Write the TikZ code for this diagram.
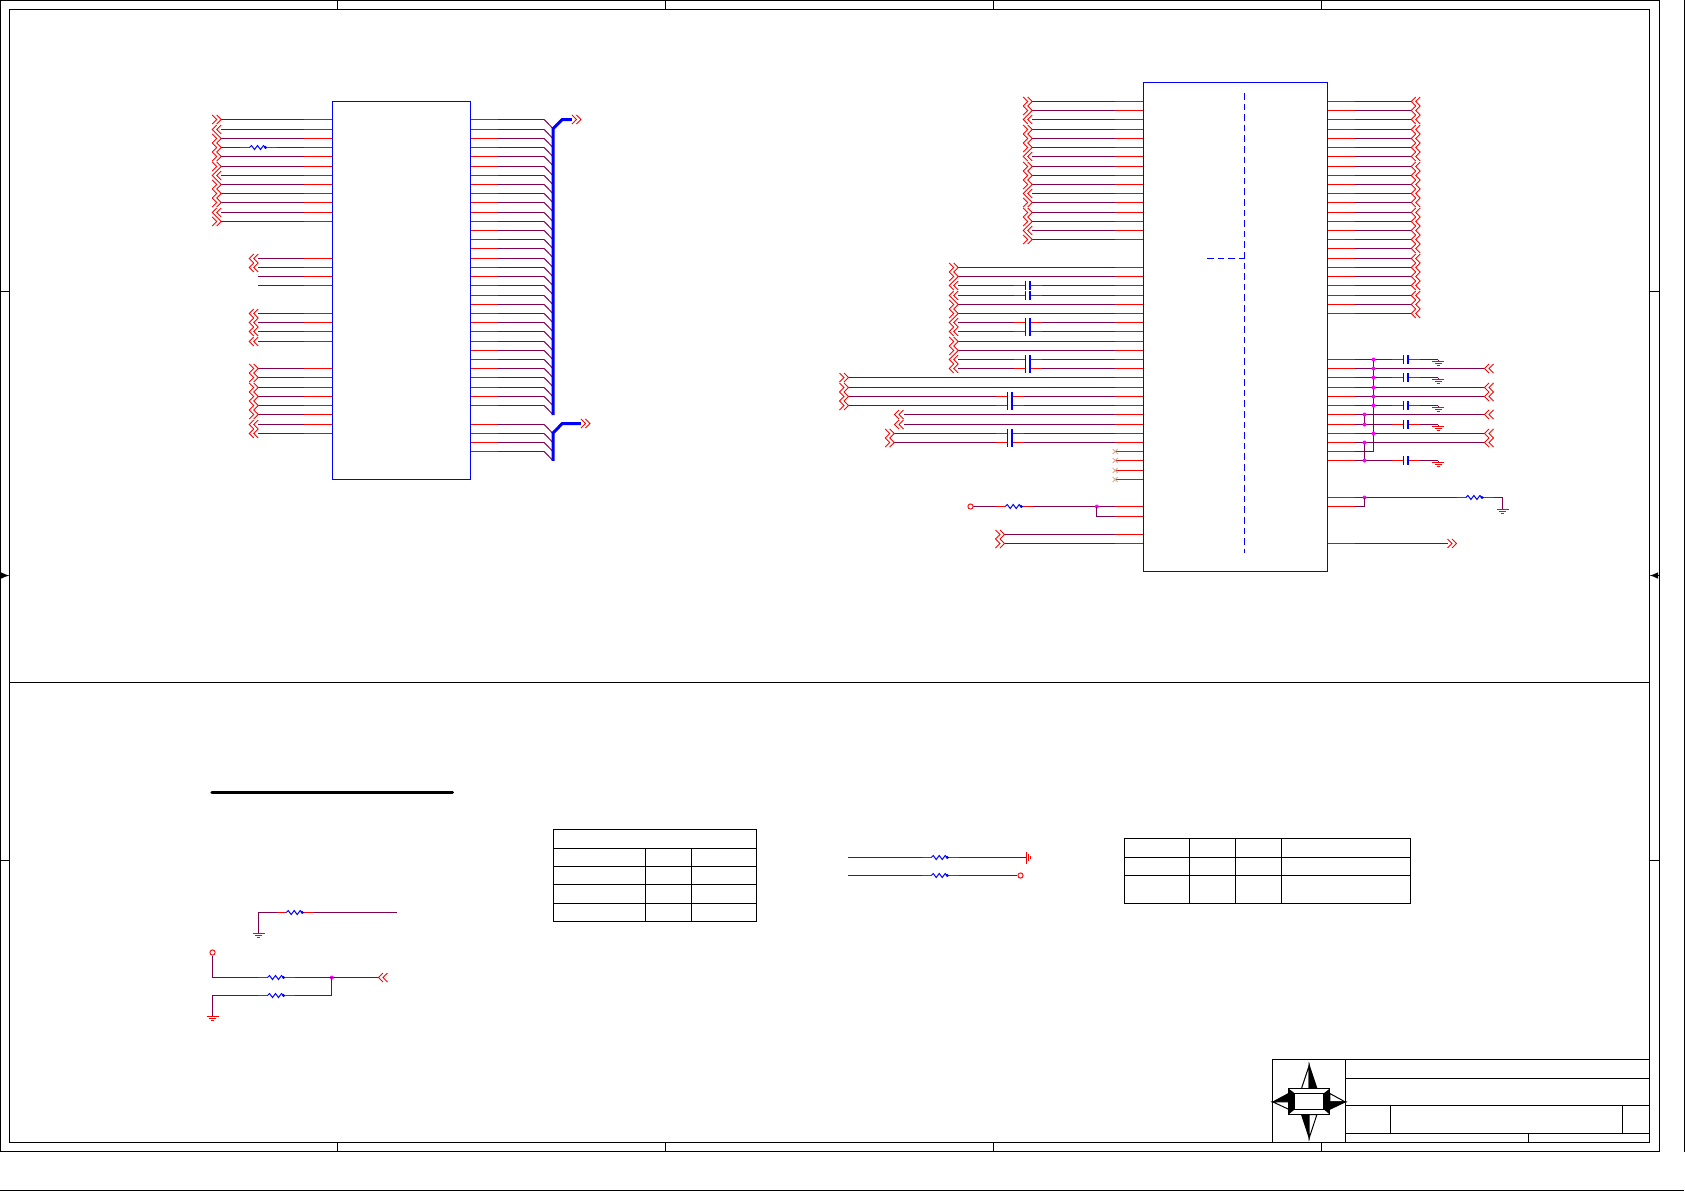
\documentclass[tikz,border=0pt]{standalone}
\usepackage{tikz}
\definecolor{netred}{RGB}{255,0,0}
\definecolor{netpurple}{RGB}{128,0,80}
\definecolor{partblue}{RGB}{0,0,255}
\definecolor{nodepink}{RGB}{255,0,255}
\definecolor{ncmark}{RGB}{205,175,145}
\tikzset{
  wire/.style={netpurple,line width=0.5pt},
  stubline/.style={netred,line width=0.5pt},
  gndline/.style={netred,line width=0.4pt},
  partline/.style={partblue,line width=0.5pt},
  busline/.style={partblue,line width=1.5pt},
  frameline/.style={black,line width=0.5pt},
  netarrow/.style={netred,line width=0.45pt},
  chipbox/.style={draw=partblue,line width=0.5pt,inner sep=0pt,outer sep=0pt},
  junct/.style={circle,fill=nodepink,inner sep=0pt,minimum size=2pt},
  termo/.style={circle,draw=netred,fill=white,line width=0.45pt,inner sep=0pt,minimum size=2.6pt},
  chevr/.pic={\draw[netarrow] (0,-4.5)--(4.5,0)--(0,4.5); \draw[netarrow] (4.5,-4.5)--(9,0)--(4.5,4.5);},
  chevl/.pic={\draw[netarrow] (4.5,-4.5)--(0,0)--(4.5,4.5); \draw[netarrow] (9,-4.5)--(4.5,0)--(9,4.5);},
  gndsym/.pic={\draw[gndline] (-6,0)--(6,0); \draw[gndline] (-3.4,2)--(3.4,2); \draw[gndline] (-1.5,4)--(1.5,4);},
  ressym/.pic={\fill[white] (0,-1) rectangle (18,1);
    \draw[stubline] (-9.3,0)--(0,0); \draw[stubline] (18,0)--(27.6,0);
    \draw[partline] (0,0)--(2,-2)--(5,2)--(8,-2)--(11,2)--(14,-2)--(16,0)--(18,0);
    \fill[partblue] (16,0) circle (1.6);},
  capsym/.pic={\fill[white] (-1.5,-1) rectangle (2,1);
    \draw[stubline] (-13.5,0)--(-2,0); \draw[stubline] (2.5,0)--(14.3,0);
    \draw[partline] (-2,-4.5)--(-2,4.5); \draw[partblue,line width=1pt] (2,-4.5)--(2,4.5);},
}
% free end, stub start, pin end
\newcommand{\netline}[5]{
  \coordinate (#1f) at (#2,#5);
  \coordinate (#1s) at (#3,#5);
  \coordinate (#1p) at (#4,#5);
  \draw[wire] (#1f) -- (#1s);
  \draw[stubline] (#1s) -- (#1p);
}
\begin{document}
\begin{tikzpicture}[x=0.5pt,y=-0.5pt]
\useasboundingbox (0,0) rectangle (1685,1191);
\begin{scope}[shift={(0.2,0.2)}]
% sheet frame
\draw[frameline] (0.3,0.3) rectangle (1659.3,1151.3);
\draw[frameline] (9.3,9.3) rectangle (1649.3,1142.3);
\draw[frameline] (1684.3,0) -- (1684.3,1151.3);
\draw[frameline] (0,1190.3) -- (1684,1190.3);
\coordinate (divl) at (9.3,682.3);
\coordinate (divr) at (1649.3,682.3);
\draw[frameline] (divl) -- (divr);
\foreach \x in {337.3,665.3,993.3,1321.3} {
  \draw[frameline] (\x,0.3) -- (\x,9.3);
  \draw[frameline] (\x,1142.3) -- (\x,1151.3);
}
\foreach \y in {291.3,860.3} {
  \draw[frameline] (0.3,\y) -- (9.3,\y);
  \draw[frameline] (1649.3,\y) -- (1659.3,\y);
}
\coordinate (arl) at (0.3,575.3);
\coordinate (arle) at (9.3,575.3);
\coordinate (arr) at (1659.3,575.3);
\coordinate (arre) at (1649.3,575.3);
\draw[frameline,-latex] (arl) -- (arle);
\draw[frameline,-latex] (arr) -- (arre);

% left chip
\foreach \y/\d [count=\i] in {119.3/chevr,129.3/chevl,138.3/chevr,147.3/chevr,156.3/chevr,166.3/chevr,175.3/chevl,184.3/chevr,193.3/chevr,202.3/chevr,212.3/chevl,221.3/chevr} {
  \netline{la\i}{221}{304}{332.3}{\y}
  \pic at (212,\y) {\d};
}
\pic at (249.3,147.3) {ressym};
\foreach \y [count=\i] in {258.3,267.3} {
  \netline{lb\i}{258}{304}{332.3}{\y}
  \pic at (249,\y) {chevl};
}
\foreach \y [count=\i] in {276.3,285.3} {
  \netline{lc\i}{258}{304}{332.3}{\y}
}
\foreach \y [count=\i] in {313.3,322.3,331.3,341.3} {
  \netline{ld\i}{258}{304}{332.3}{\y}
  \pic at (249,\y) {chevl};
}
\foreach \y/\d [count=\i] in {368.3/chevr,377.3/chevr,387.3/chevr,396.3/chevr,405.3/chevr,414.3/chevr,424.3/chevl,433.3/chevl} {
  \netline{le\i}{258}{304}{332.3}{\y}
  \pic at (249,\y) {\d};
}
\node (U1) [chipbox,minimum width=69pt,minimum height=189pt] at (401.3,290.3) {};

% data bus entries
\foreach \y [count=\i] in {119.3,129.3,138.3,147.3,156.3,166.3,175.3,184.3,193.3,202.3,212.3,221.3,230.3,239.3,248.3,258.3,267.3,276.3,285.3,295.3,304.3,313.3,322.3,331.3,341.3,350.3,359.3,368.3,377.3,387.3,396.3,405.3} {
  \netline{da\i}{544}{497.3}{470.3}{\y}
  \coordinate (dae\i) at (552.7,\y+9);
  \draw[wire] (da\i f) -- (dae\i);
}
\foreach \y [count=\i] in {424.3,433.3,442.3,451.3} {
  \netline{db\i}{544}{497.3}{470.3}{\y}
  \coordinate (dbe\i) at (552.7,\y+9);
  \draw[wire] (db\i f) -- (dbe\i);
}
\coordinate (bua) at (553,415);
\coordinate (bub) at (553,128.3);
\coordinate (buc) at (562,119.3);
\coordinate (bud) at (571.7,119.3);
\draw[busline] (bua) -- (bub) -- (buc) -- (bud);
\pic at (571.7,119.3) {chevr};
\coordinate (bva) at (553,460.7);
\coordinate (bvb) at (553,432.7);
\coordinate (bvc) at (562,423.3);
\coordinate (bvd) at (580.7,423.3);
\draw[busline] (bva) -- (bvb) -- (bvc) -- (bvd);
\pic at (580.7,423.3) {chevr};

% right chip, left side
\foreach \y/\d [count=\i] in {101.3/chevr,110.3/chevr,119.3/chevl,129.3/chevr,138.3/chevr,147.3/chevr,156.3/chevl,166.3/chevr,175.3/chevr,184.3/chevr,193.3/chevl,202.3/chevr,212.3/chevr,221.3/chevr,230.3/chevl,239.3/chevr} {
  \netline{ra\i}{1032}{1115}{1143.3}{\y}
  \pic at (1023,\y) {\d};
}
\foreach \y/\d [count=\i] in {267.3/chevr,276.3/chevr,285.3/chevl,295.3/chevl,304.3/chevr,313.3/chevr,322.3/chevl,331.3/chevl,341.3/chevr,350.3/chevr,359.3/chevl,368.3/chevl} {
  \netline{rb\i}{958}{1115}{1143.3}{\y}
  \pic at (949,\y) {\d};
}
\foreach \y in {285.3,295.3,322.3,331.3,359.3,368.3} {
  \pic at (1027.5,\y) {capsym};
}
\foreach \y [count=\i] in {377.3,387.3,396.3,405.3} {
  \netline{rc\i}{848.3}{1115}{1143.3}{\y}
  \pic at (839.3,\y) {chevr};
}
\foreach \y [count=\i] in {414.3,424.3} {
  \netline{rd\i}{903.3}{1115}{1143.3}{\y}
  \pic at (894.3,\y) {chevl};
}
\foreach \y [count=\i] in {433.3,442.3} {
  \netline{re\i}{894}{1115}{1143.3}{\y}
  \pic at (885,\y) {chevr};
}
\foreach \y in {396.3,405.3,433.3,442.3} {
  \pic at (1009.7,\y) {capsym};
}
\foreach \y [count=\i] in {451.3,460.3,470.3,479.3} {
  \coordinate (nc\i) at (1115,\y);
  \coordinate (ncp\i) at (1143.3,\y);
  \draw[stubline] (nc\i) -- (ncp\i);
  \draw[ncmark,line width=0.4pt] (1112.5,\y-2.5) -- (1117.5,\y+2.5) (1112.5,\y+2.5) -- (1117.5,\y-2.5);
}
\netline{rf1}{973}{1115}{1143.3}{506.3}
\coordinate (rf2s) at (1115,516.3);
\coordinate (rf2p) at (1143.3,516.3);
\node (jrf) [junct] at (1096.7,506.3) {};
\draw[wire] (jrf.center) |- (rf2s);
\draw[stubline] (rf2s) -- (rf2p);
\node (trf) [termo] at (970.3,506.3) {};
\pic at (1005,506.3) {ressym};
\foreach \y [count=\i] in {534.3,543.3} {
  \netline{rg\i}{1004.3}{1115}{1143.3}{\y}
  \pic at (995.3,\y) {chevr};
}
\node (U2) [chipbox,minimum width=92pt,minimum height=244.35pt] at (1235.3,326.65) {};
\draw[partline,dash pattern=on 3.3pt off 2pt] (1244.3,92.7) -- (1244.3,552.7);
\draw[partline,dash pattern=on 3.3pt off 2pt] (1207,258.3) -- (1244.3,258.3);

% right chip, right side
\foreach \y [count=\i] in {101.3,110.3,119.3,129.3,138.3,147.3,156.3,166.3,175.3,184.3,193.3,202.3,212.3,221.3,230.3,239.3,248.3,258.3,267.3,276.3,285.3,295.3,304.3,313.3} {
  \netline{rh\i}{1411}{1355}{1327.3}{\y}
  \pic at (1411,\y) {chevl};
}
\foreach \y [count=\i] in {359.3,377.3,405.3,424.3,460.3} {
  \netline{rj\i}{1438}{1355}{1327.3}{\y}
  \pic at (1405.7,\y) {capsym};
  \coordinate (gj\i) at (1438,\y+2);
  \draw[wire] (rj\i f) -- (gj\i);
  \pic at (gj\i) {gndsym};
}
\foreach \y [count=\i] in {368.3,387.3,396.3,414.3,433.3,442.3} {
  \netline{rk\i}{1484.3}{1355}{1327.3}{\y}
  \pic at (1484.3,\y) {chevl};
}
\netline{rl1}{1373.3}{1355}{1327.3}{451.3}
\draw[wire] (1373.3,359.3) -- (rl1f);
\draw[wire] (1364.3,414.3) -- (1364.3,424.3);
\draw[wire] (1364.3,442.3) -- (1364.3,460.3);
\foreach \y [count=\i] in {359.3,368.3,377.3,387.3,396.3,405.3,433.3} {
  \node (ja\i) [junct] at (1373.3,\y) {};
}
\foreach \y [count=\i] in {414.3,424.3,442.3,460.3} {
  \node (jb\i) [junct] at (1364.3,\y) {};
}
\netline{rm1}{1502.3}{1355}{1327.3}{497.3}
\coordinate (rm2s) at (1364.3,506.3);
\coordinate (rm2p) at (1327.3,506.3);
\coordinate (rm2n) at (1355,506.3);
\node (jrm) [junct] at (1364.3,497.3) {};
\draw[wire] (jrm.center) -- (rm2s) -- (rm2n);
\draw[stubline] (rm2n) -- (rm2p);
\pic at (1465.7,497.3) {ressym};
\coordinate (gm) at (1502.3,509.3);
\draw[wire] (rm1f) -- (gm);
\pic at (gm) {gndsym};
\netline{rn1}{1447.3}{1355}{1327.3}{543.3}
\pic at (1447.3,543.3) {chevr};

% lower left
\coordinate (hla) at (211.7,792.3);
\coordinate (hlb) at (452.3,792.3);
\draw[black,line width=1.5pt,line cap=round] (hla) -- (hlb);
\coordinate (sa) at (396.7,912.3);
\coordinate (sb) at (258.3,912.3);
\coordinate (sc) at (258.3,933.3);
\draw[wire] (sa) -- (sb) -- (sc);
\pic at (286,912.3) {ressym};
\pic at (258.3,933.3) {gndsym};
\node (tsd) [termo] at (212.3,952.3) {};
\node (jsd) [junct] at (331.7,977.3) {};
\coordinate (se) at (212.3,977.3);
\coordinate (sf) at (378.3,977.3);
\draw[wire] (tsd) -- (se) -- (sf);
\pic at (378.3,977.3) {chevl};
\pic at (267.3,977.3) {ressym};
\coordinate (sg) at (212.3,1016.3);
\coordinate (sh) at (212.3,995.3);
\coordinate (si) at (331.7,995.3);
\draw[wire] (sg) -- (sh) -- (si) -- (jsd.center);
\pic at (267.3,995.3) {ressym};
\pic at (sg) {gndsym};

% table one
\draw[frameline] (553.3,829.3) rectangle (756.3,921.3);
\foreach \y in {848.3,866.3,884.3,903.3} {
  \draw[frameline] (553.3,\y) -- (756.3,\y);
}
\foreach \x in {645.3,691.3} {
  \draw[frameline] (\x,848.3) -- (\x,921.3);
}

% middle straps
\coordinate (ma) at (847.7,857.3);
\coordinate (mb) at (1026.3,857.3);
\draw[wire] (ma) -- (mb);
\pic at (931,857.3) {ressym};
\pic[rotate=90] at (mb) {gndsym};
\coordinate (mc) at (847.7,875.3);
\node (tmd) [termo] at (1020.3,875.3) {};
\draw[wire] (mc) -- (tmd);
\pic at (931,875.3) {ressym};

% table two
\draw[frameline] (1124.3,838.3) rectangle (1410.3,903.3);
\foreach \y in {857.3,875.3} {
  \draw[frameline] (1124.3,\y) -- (1410.3,\y);
}
\foreach \x in {1189.3,1235.3,1281.3} {
  \draw[frameline] (\x,838.3) -- (\x,903.3);
}

% title block
\draw[frameline] (1272.3,1059.3) rectangle (1649.3,1142.3);
\draw[frameline] (1345.3,1059.3) -- (1345.3,1142.3);
\draw[frameline] (1345.3,1078.3) -- (1649.3,1078.3);
\draw[frameline] (1345.3,1105.3) -- (1649.3,1105.3);
\draw[frameline] (1345.3,1133.3) -- (1649.3,1133.3);
\draw[frameline] (1390.3,1105.3) -- (1390.3,1133.3);
\draw[frameline] (1622.3,1105.3) -- (1622.3,1133.3);
\draw[frameline] (1528.3,1133.3) -- (1528.3,1142.3);
% compass
\filldraw[frameline,fill=white] (1301.3,1088.3) -- (1309,1065) -- (1309,1088.3) -- cycle;
\filldraw[frameline,fill=black] (1316.7,1088.3) -- (1309,1065) -- (1309,1088.3) -- cycle;
\filldraw[frameline,fill=black] (1301.3,1114.3) -- (1309,1137.7) -- (1309,1114.3) -- cycle;
\filldraw[frameline,fill=white] (1316.7,1114.3) -- (1309,1137.7) -- (1309,1114.3) -- cycle;
\filldraw[frameline,fill=black] (1288.3,1093.3) -- (1272.7,1101.7) -- (1288.3,1101.7) -- cycle;
\filldraw[frameline,fill=white] (1288.3,1109) -- (1272.7,1101.7) -- (1288.3,1101.7) -- cycle;
\filldraw[frameline,fill=white] (1329.7,1093.3) -- (1345,1101.7) -- (1329.7,1101.7) -- cycle;
\filldraw[frameline,fill=black] (1329.7,1109) -- (1345,1101.7) -- (1329.7,1101.7) -- cycle;
\filldraw[frameline,fill=white] (1288.3,1088.3) rectangle (1329.7,1114.3);
\fill[black] (1288.3,1088.3) -- (1294.7,1093.3) -- (1294.7,1109) -- (1288.3,1114.3) -- cycle;
\fill[black] (1329.7,1088.3) -- (1323.3,1093.3) -- (1323.3,1109) -- (1329.7,1114.3) -- cycle;
\draw[frameline] (1294.7,1093.3) rectangle (1323.3,1109);
\end{scope}
\end{tikzpicture}
\end{document}
